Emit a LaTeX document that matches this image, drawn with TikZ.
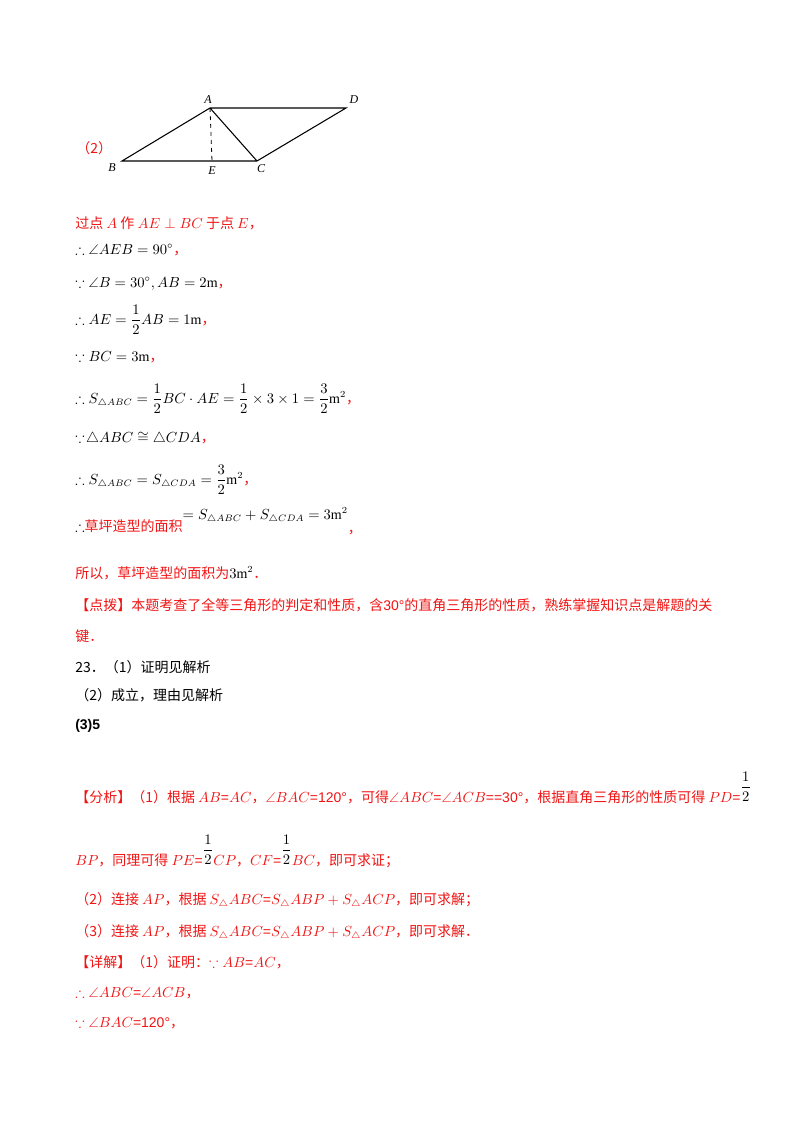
\documentclass[tikz,border=0pt]{standalone}
\usepackage{amsmath,amssymb}
\usepackage{fontspec}
\setmainfont{Liberation Serif}
\newfontfamily\cjk{Noto Sans CJK SC}
\newfontfamily\libs{Liberation Sans}
\definecolor{rd}{RGB}{240,20,20}
\newcommand{\rc}[1]{\textcolor{rd}{#1}}
\newcommand{\hf}{\raisebox{8pt}{\textcolor{black}{$\displaystyle\frac{1}{2}$}}}
\begin{document}
\begin{tikzpicture}[x=0.75pt,y=-0.75pt,
  tx/.style={anchor=base west,inner sep=0,font=\fontsize{10.5}{12}\selectfont\cjk},
  lab/.style={font=\fontsize{9}{10}\selectfont\itshape,inner sep=1pt},
  seg/.style={line width=0.8pt}]
\useasboundingbox (0,0) rectangle (800,1132);
\coordinate (A) at (210,108);
\coordinate (D) at (346,108);
\coordinate (B) at (122,161);
\coordinate (C) at (257,161);
\coordinate (E) at (212,161);
\draw[seg] (B)--(A)--(D)--(C)--cycle (A)--(C);
\draw[dashed,line width=0.6pt] (A)--(E);
\node[lab] at (208,100) {A};
\node[lab] at (354,100) {D};
\node[lab] at (112,168) {B};
\node[lab] at (212,171) {E};
\node[lab] at (261,169) {C};
\node[tx,text=rd] at (76,153) {（2）};
\node[tx,text=rd] at (75,228) {过点 $A$ 作 $AE\perp BC$ 于点 $E$，};
\node[tx] at (75,254) {$\therefore \angle AEB=90^\circ$\rc{，}};
\node[tx] at (75,287) {$\because \angle B=30^\circ,AB=2\mathrm{m}$\rc{，}};
\node[tx] at (75,324) {$\therefore AE=\dfrac12 AB=1\mathrm{m}$\rc{，}};
\node[tx] at (75,361) {$\because BC=3\mathrm{m}$\rc{，}};
\node[tx] at (75,403) {$\therefore S_{\triangle ABC}=\dfrac12 BC\cdot AE=\dfrac12\times3\times1=\dfrac32\mathrm{m}^2$\rc{，}};
\node[tx] at (75,442) {$\because\!\triangle ABC\cong\triangle CDA$\rc{，}};
\node[tx] at (75,484) {$\therefore S_{\triangle ABC}=S_{\triangle CDA}=\dfrac32\mathrm{m}^2$\rc{，}};
\node[tx] at (75,531) {$\therefore$\rc{草坪造型的面积}\raisebox{9pt}{$=S_{\triangle ABC}+S_{\triangle CDA}=3\mathrm{m}^2$}\raisebox{-2pt}{\rc{，}}};
\node[tx,text=rd] at (75,578) {所以，草坪造型的面积为\textcolor{black}{$3\mathrm{m}^2$}．};
\node[tx,text=rd] at (75,610) {【点拨】本题考查了全等三角形的判定和性质，含{\libs 30°}的直角三角形的性质，熟练掌握知识点是解题的关};
\node[tx,text=rd] at (75,641) {键．};
\node[tx] at (75,672) {23．（1）证明见解析};
\node[tx] at (75,700) {（2）成立，理由见解析};
\node[tx] at (75,729) {{\libs\bfseries (3)5}};
\node[tx,text=rd] at (75,802) {【分析】（1）根据 $AB${\libs =}$AC$，$\angle BAC${\libs =120°}，可得$\angle ABC${\libs =}$\angle ACB${\libs ==30°}，根据直角三角形的性质可得 $PD${\libs =}\hf};
\node[tx,text=rd] at (75,865) {$BP$，同理可得 $PE${\libs =}\hf$CP$，$CF${\libs =}\hf$BC$，即可求证；};
\node[tx,text=rd] at (75,904) {（2）连接 $AP$，根据 $S_\triangle ABC${\libs =}$S_\triangle ABP+S_\triangle ACP$，即可求解；};
\node[tx,text=rd] at (75,936) {（3）连接 $AP$，根据 $S_\triangle ABC${\libs =}$S_\triangle ABP+S_\triangle ACP$，即可求解．};
\node[tx,text=rd] at (75,967) {【详解】（1）证明：$\because AB${\libs =}$AC$，};
\node[tx,text=rd] at (75,997) {$\therefore\angle ABC${\libs =}$\angle ACB$，};
\node[tx,text=rd] at (75,1027) {$\because\angle BAC${\libs =120°}，};
\end{tikzpicture}
\end{document}
